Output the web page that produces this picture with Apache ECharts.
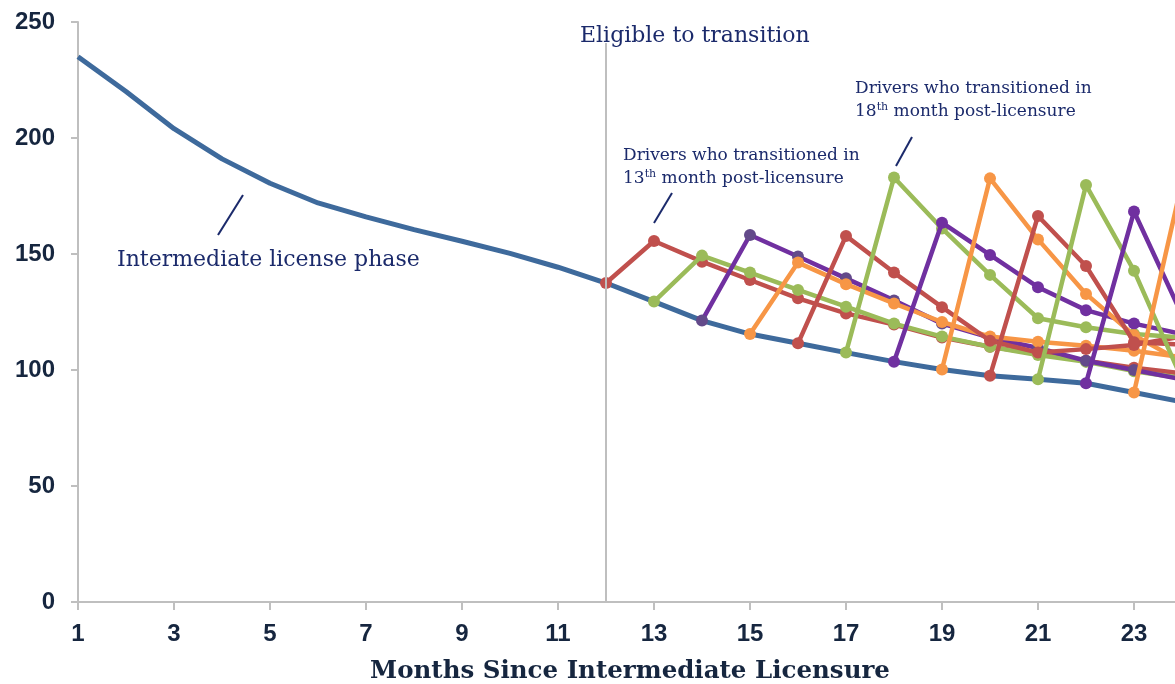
<!DOCTYPE html>
<html>
<head>
<meta charset="utf-8">
<script src="https://cdn.jsdelivr.net/npm/echarts@6/dist/echarts.min.js"></script>
<style>
html,body{margin:0;padding:0;background:#fff;}
#chart{width:1175px;height:684px;}
</style>
</head>
<body>
<div id="chart"></div>
<script>
// ---- data ----
const months = [1,2,3,4,5,6,7,8,9,10,11,12,13,14,15,16,17,18,19,20,21,22,23,24];
const intermediate = [235,220,204,191,180.5,172,166,160.5,155.5,150.3,144.3,137.5,129.5,121.3,115.5,111.5,107.5,103.6,100.2,97.5,96,94.3,90.3,86.3];

// transition cohorts: month of first point and values from that month on
const startMonths = [12,13,14,15,16,17,18,19,20,21,22,23];
const red1    = [137.5,155.6,146.7,138.8,130.9,124.4,119.6,114,110,107,104,101,98.5];
const green1  = [129.5,149.3,142,134.5,127.3,120,114.4,110,106.5,103.5,99.5,96.5];
const purple1 = [121.3,158.2,148.9,139.5,130,120,114,109.5,104,100,96];
const orange1 = [115.5,146.3,137,128.7,120.7,114.4,112.2,110.5,108.3,105.5];
const red2    = [111.5,157.8,142,127.1,112.6,107.5,109,110.8,114.5];
const green2  = [107.5,183,161,141,122.3,118.4,115.5,114];
const purple2 = [103.6,163.5,149.6,135.7,125.8,120,115.5];
const orange2 = [100.2,182.6,156.3,132.8,115,103.5];
const red3    = [97.5,166.4,144.8,112,111];
const green3  = [96,179.7,142.8,96];
const purple3 = [94.3,168.3,123.7];
const orange3 = [90.3,181];
const cohorts = [red1,green1,purple1,orange1,red2,green2,purple2,orange2,red3,green3,purple3,orange3];

const yTicks = [0,50,100,150,200,250];
const eligibleMonth = 12;

// ---- styles ----
const RED='#C0504D', GREEN='#9BBB59', PURPLE='#7030A0', ORANGE='#F79646', BLUE='#3E6A9C';
const cohortColors = [RED,GREEN,PURPLE,ORANGE,RED,GREEN,PURPLE,ORANGE,RED,GREEN,PURPLE,ORANGE];
const markerColors = [RED,GREEN,'#634A8A',ORANGE,RED,GREEN,PURPLE,ORANGE,RED,GREEN,PURPLE,ORANGE];
const NAVY='#1B2A6B', AX='#16263F', GRID='#BFBFBF';

const series = [{
  type:'line',
  data: months.map((m,i)=>[m,intermediate[i]]),
  showSymbol:false, symbol:'none',
  lineStyle:{color:BLUE,width:5},
  itemStyle:{color:BLUE},
  z:2,
  markLine:{
    silent:true, symbol:'none', label:{show:false},
    lineStyle:{color:GRID,width:2,type:'solid'},
    data:[[{coord:[eligibleMonth,0]},{coord:[eligibleMonth,241]}]]
  }
}];
cohorts.forEach((vals,k)=>{
  series.push({
    type:'line',
    data: vals.map((v,i)=>[startMonths[k]+i, v]),
    symbol:'circle', symbolSize:12, showAllSymbol:true,
    lineStyle:{color:cohortColors[k],width:4.5},
    itemStyle:{color:markerColors[k]},
    z:3+k
  });
});

const chart = echarts.init(document.getElementById('chart'));
chart.setOption({
  animation:false,
  backgroundColor:'#fff',
  grid:{left:78,right:-7,top:22,bottom:82,containLabel:false,outerBoundsMode:'none'},
  xAxis:{
    type:'value', min:1, max:24, interval:2,
    name:'Months Since Intermediate Licensure',
    nameLocation:'middle', nameGap:57,
    nameTextStyle:{fontFamily:'DejaVu Serif',fontWeight:'bold',fontSize:24.5,color:AX},
    axisLine:{lineStyle:{color:GRID,width:2}},
    axisTick:{show:true,length:8,lineStyle:{color:GRID,width:2}},
    axisLabel:{margin:20,fontFamily:'Liberation Sans',fontWeight:'bold',fontSize:24,color:AX,showMaxLabel:false},
    splitLine:{show:false}
  },
  yAxis:{
    type:'value', min:yTicks[0], max:yTicks[yTicks.length-1], interval:50,
    axisLine:{show:true,lineStyle:{color:GRID,width:2}},
    axisTick:{show:true,length:7,lineStyle:{color:GRID,width:2}},
    axisLabel:{margin:23,fontFamily:'Liberation Sans',fontWeight:'bold',fontSize:24,color:AX},
    splitLine:{show:false}
  },
  series: series,
  graphic:[
    {type:'text',left:580,top:25,style:{text:'Eligible to transition',fontFamily:'DejaVu Serif',fontSize:22,fill:NAVY}},
    {type:'text',left:117,top:249,style:{text:'Intermediate license phase',fontFamily:'DejaVu Serif',fontSize:22,fill:NAVY}},
    {type:'line',shape:{x1:218,y1:235,x2:243,y2:195},style:{stroke:NAVY,lineWidth:2}},
    {type:'text',left:623,top:147,style:{
      text:'{n|Drivers who transitioned in}\n{n|13}{s|th}{n| month post-licensure}',
      fill:NAVY, rich:{n:{fontFamily:'DejaVu Serif',fontSize:17,fill:NAVY,lineHeight:23},
                      s:{fontFamily:'DejaVu Serif',fontSize:11,fill:NAVY,lineHeight:23,padding:[0,0,9,0]}}}},
    {type:'line',shape:{x1:654,y1:223,x2:672,y2:193},style:{stroke:NAVY,lineWidth:2}},
    {type:'text',left:855,top:80,style:{
      text:'{n|Drivers who transitioned in}\n{n|18}{s|th}{n| month post-licensure}',
      fill:NAVY, rich:{n:{fontFamily:'DejaVu Serif',fontSize:17,fill:NAVY,lineHeight:23},
                      s:{fontFamily:'DejaVu Serif',fontSize:11,fill:NAVY,lineHeight:23,padding:[0,0,9,0]}}}},
    {type:'line',shape:{x1:896,y1:166,x2:912,y2:137},style:{stroke:NAVY,lineWidth:2}}
  ]
});
</script>
</body>
</html>
